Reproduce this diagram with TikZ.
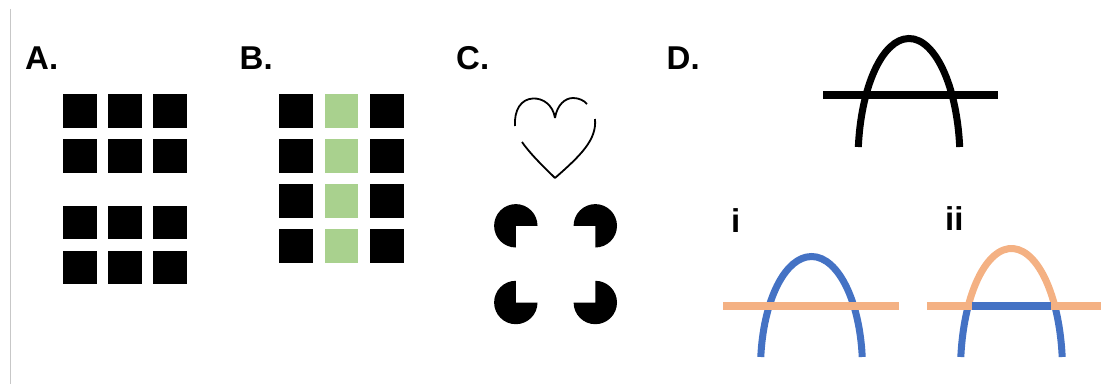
\documentclass[tikz,border=0pt]{standalone}
\usepackage{fontspec}
\setmainfont{Liberation Sans}
\usetikzlibrary{calc}

\definecolor{bleuArc}{HTML}{4472C4}
\definecolor{orangeBarre}{HTML}{F4B183}
\definecolor{vertCarre}{HTML}{A9D18E}

\begin{document}
\begin{tikzpicture}[x=1pt, y=-1pt, font=\fontsize{33}{36}\selectfont\bfseries]

    % --- Paramètres ---
    \def\cote{33.4}      % Côté des carrés
    \def\pas{45}         % Pas de la grille
    \def\rP{21.7}        % Rayon des disques
    \def\ax{51}          % Demi-largeur des arches
    \def\ay{122}         % Hauteur des arches

    \useasboundingbox (0,0) rectangle (1102,385);

    % --- Styles ---
    \tikzstyle{carre_noir} = [fill=black]
    \tikzstyle{carre_vert} = [fill=vertCarre]
    \tikzstyle{lettre} = [anchor=base west, inner sep=0pt]
    \tikzstyle{arche} = [line width=7pt]
    \tikzstyle{barre} = [line width=8pt]
    \tikzstyle{coeur} = [line width=1.8pt]

    % --- Trait gris (bord gauche) ---
    \coordinate (bordH) at (10.5,9);
    \coordinate (bordB) at (10.5,384);
    \draw[black!22, line width=1.3pt] (bordH) -- (bordB);

    % --- Lettres ---
    \node[lettre] (lblA) at (25,70) {A.};
    \node[lettre] (lblB) at (239.5,70) {B.};
    \node[lettre] (lblC) at (456,70) {C.};
    \node[lettre] (lblD) at (666.5,70) {D.};
    \node[lettre] (lblI) at (731,232) {i};
    \node[lettre] (lblII) at (945,230) {ii};

    % --- A : deux groupes de carrés ---
    \foreach \i in {0,1,2}
        \foreach \y in {94.3,139.3,205.7,250.7}
            \fill[carre_noir] (63.3+\i*\pas,\y) rectangle ++(\cote,\cote);

    % --- B : colonne verte ---
    \foreach \y in {94.3,139.3,184.3,229.3} {
        \fill[carre_noir] (279.3,\y) rectangle ++(\cote,\cote);
        \fill[carre_vert] (324.8,\y) rectangle ++(\cote,\cote);
        \fill[carre_noir] (370.2,\y) rectangle ++(\cote,\cote);
    }

    % --- C : coeur ouvert ---
    \draw[coeur] (555,118) .. controls (553,105) and (543,98) .. (533,98.5)
        .. controls (521,99) and (514,110) .. (515,126);
    \draw[coeur] (555,118) .. controls (557,105) and (565,98) .. (573,98)
        .. controls (579,98) and (584,100.5) .. (587,104);
    \draw[coeur] (595,119) .. controls (597,140) and (580,156) .. (555,178);
    \draw[coeur] (522,142) .. controls (531,155) and (545,168) .. (555,178);

    % --- C : disques (contour illusoire) ---
    \coordinate (P1) at (515.8,225.8);
    \coordinate (P2) at (595.3,225.8);
    \coordinate (P3) at (515.8,302.5);
    \coordinate (P4) at (595.3,302.5);
    \fill (P1) -- ++(90:\rP) arc[start angle=90, end angle=360, radius=\rP] -- cycle;
    \fill (P2) -- ++(180:\rP) arc[start angle=180, end angle=450, radius=\rP] -- cycle;
    \fill (P3) -- ++(0:\rP) arc[start angle=0, end angle=270, radius=\rP] -- cycle;
    \fill (P4) -- ++(270:\rP) arc[start angle=270, end angle=540, radius=\rP] -- cycle;

    % --- D : arche noire ---
    \coordinate (D0) at (909,160.5);
    \draw[arche] (D0) ++(-6.35:{\ax} and {\ay})
        arc[start angle=-6.35, end angle=-173.65, x radius=\ax, y radius=\ay];
    \coordinate (DbG) at (823,95);
    \coordinate (DbD) at (998,95);
    \draw[barre] (DbG) -- (DbD);

    % --- D (i) : barre orange devant ---
    \coordinate (I0) at (811.5,368.5);
    \draw[arche, bleuArc] (I0) ++(-5.9:{\ax} and {112})
        arc[start angle=-5.9, end angle=-174.1, x radius=\ax, y radius=112];
    \coordinate (IbG) at (723,306);
    \coordinate (IbD) at (899,306);
    \draw[barre, orangeBarre] (IbG) -- (IbD);

    % --- D (ii) : couleurs échangées ---
    \coordinate (J0) at (1011.5,370.5);
    \draw[arche, bleuArc] (J0) ++(-6.35:{\ax} and {\ay})
        arc[start angle=-6.35, end angle=-31.9, x radius=\ax, y radius=\ay];
    \draw[arche, bleuArc] (J0) ++(-148.1:{\ax} and {\ay})
        arc[start angle=-148.1, end angle=-173.65, x radius=\ax, y radius=\ay];
    \draw[arche, orangeBarre] (J0) ++(-31.9:{\ax} and {\ay})
        arc[start angle=-31.9, end angle=-148.1, x radius=\ax, y radius=\ay];
    \coordinate (JbG) at (927,306);
    \coordinate (JbD) at (1101,306);
    \draw[barre, orangeBarre] (JbG) -- (JbD);
    \coordinate (JmG) at (971.7,306);
    \coordinate (JmD) at (1051.3,306);
    \draw[barre, bleuArc] (JmG) -- (JmD);

\end{tikzpicture}
\end{document}
